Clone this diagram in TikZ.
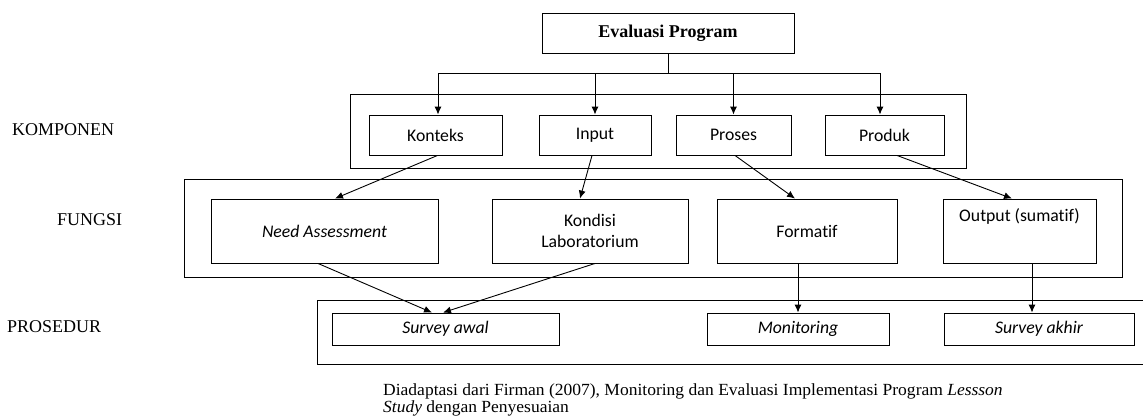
\documentclass[tikz,border=0pt]{standalone}
\usepackage{fontspec}
\setmainfont{Liberation Serif}
\newfontfamily\calib[Ligatures=NoCommon]{Carlito}
\usetikzlibrary{arrows.meta}
\tikzset{
  box/.style={draw, line width=0.9pt, inner sep=0pt, font=\calib\fontsize{17.7}{21}\selectfont, align=center},
  frame/.style={draw, line width=0.9pt},
  arr/.style={line width=0.9pt, -{Latex[length=8pt,width=7pt]}},
  ln/.style={line width=0.9pt},
  side/.style={font=\fontsize{18}{21}\selectfont, inner sep=0pt, anchor=base west},
  captxt/.style={font=\fontsize{17}{20}\selectfont, inner sep=0pt, anchor=base west}
}
\begin{document}
\begin{tikzpicture}[x=1pt,y=-1pt]
\useasboundingbox (0,0) rectangle (1143,416);
% frames
\draw[frame] (350,94) rectangle (966,168);
\draw[frame] (184,179) rectangle (1122,277);
\draw[frame] (1145,300) -- (317,300) -- (317,364) -- (1145,364);
% top
\node[box, minimum width=252pt, minimum height=40pt, font=\bfseries\fontsize{18}{21}\selectfont] (eval) at (668,33) {Evaluasi Program};
% komponen
\node[box, minimum width=133pt, minimum height=40pt] (konteks) at (435.5,135) {Konteks};
\node[box, minimum width=112pt, minimum height=40pt] (input) at (595,135) {Input};
\node[box, minimum width=115pt, minimum height=40pt] (proses) at (733.5,135) {Proses};
\node[box, minimum width=119pt, minimum height=40pt] (produk) at (884.5,135) {Produk};
% fungsi
\node[box, minimum width=227pt, minimum height=64pt] (na) at (324.5,231) {\itshape Need Assessment};
\node[box, minimum width=196pt, minimum height=64pt] (kondisi) at (590,231) {Kondisi\\[0pt]Laboratorium};
\node[box, minimum width=180pt, minimum height=64pt] (formatif) at (807,231) {Formatif};
\node[box, minimum width=153pt, minimum height=64pt] (output) at (1019.5,231) {};
\node[box, draw=none] (outtxt) at ([yshift=-18pt]output.north) {Output (sumatif)};
% prosedur
\node[box, minimum width=227pt, minimum height=32pt] (sawal) at (445.5,329) {\itshape Survey awal};
\node[box, minimum width=182pt, minimum height=32pt] (monitor) at (798,329) {\itshape Monitoring};
\node[box, minimum width=190pt, minimum height=32pt] (sakhir) at (1039,329) {\itshape Survey akhir};
% side labels
\node[side] (lkomp) at (12,135) {KOMPONEN};
\node[side] (lfung) at (57,225) {FUNGSI};
\node[side] (lpros) at (7,332) {PROSEDUR};
% caption
\node[captxt] (cap1) at (383,395) {\scalebox{1.03}[1]{Diadaptasi dari Firman (2007), Monitoring dan Evaluasi Implementasi Program \textit{Lessson}}};
\node[captxt] (cap2) at (383,412) {\scalebox{1.03}[1]{\textit{Study} dengan Penyesuaian}};
% tree connectors
\coordinate (bus) at (668,73);
\draw[ln] (eval.south) -- (bus);
\draw[arr] (bus) -| ([xshift=2.5pt]konteks.north);
\draw[arr] (bus) -| (input.north);
\draw[arr] (bus) -| (proses.north);
\draw[arr] (bus) -| ([xshift=-4.5pt]produk.north);
% komponen -> fungsi
\draw[arr] ([xshift=2pt]konteks.south) -- ([xshift=10.5pt]na.north);
\draw[arr] ([xshift=-3pt]input.south) -- ([xshift=-10pt]kondisi.north);
\draw[arr] ([xshift=1.5pt]proses.south) -- ([xshift=-12pt]formatif.north);
\draw[arr] ([xshift=12.5pt]produk.south) -- ([xshift=-7.5pt]output.north);
% fungsi -> prosedur
\draw[arr] ([xshift=-6.5pt]na.south) -- ([xshift=-13.5pt]sawal.north);
\draw[arr] ([xshift=5pt]kondisi.south) -- ([xshift=-2.5pt]sawal.north);
\draw[arr] ([xshift=-9pt]formatif.south) -- (monitor.north);
\draw[arr] ([xshift=12.5pt]output.south) -- ([xshift=-7pt]sakhir.north);
\end{tikzpicture}
\end{document}
